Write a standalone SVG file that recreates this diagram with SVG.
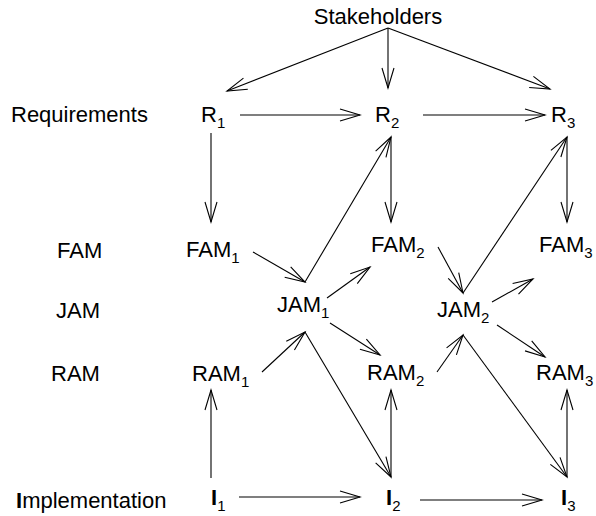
<svg xmlns="http://www.w3.org/2000/svg" width="596" height="516" viewBox="0 0 596 516">
<style>
text{font-family:"Liberation Sans",Arial,sans-serif;font-size:22px;fill:#000}
.s{font-size:15px}
.b{font-weight:bold}
#edges line{stroke:#000;stroke-width:1.1;fill:none;marker-end:url(#ah)}
</style>
<defs>
<marker id="ah" markerUnits="userSpaceOnUse" markerWidth="24" markerHeight="16" refX="21" refY="7" orient="auto">
<path d="M1,1 L21,7 L1,13" fill="none" stroke="#000" stroke-width="1.1"/>
</marker>
</defs>
<rect width="596" height="516" fill="#fff"/>
<g id="labels">
<text x="11" y="122">Requirements</text>
<text x="57" y="258">FAM</text>
<text x="56" y="318">JAM</text>
<text x="51" y="381">RAM</text>
<text x="16" y="508"><tspan class="b">I</tspan>mplementation</text>
</g>
<g id="stakeholders"><text x="378" y="24" text-anchor="middle">Stakeholders</text></g>
<g id="R1"><text x="201" y="122">R<tspan class="s" dy="6">1</tspan></text></g>
<g id="R2"><text x="375" y="122">R<tspan class="s" dy="6">2</tspan></text></g>
<g id="R3"><text x="551" y="122">R<tspan class="s" dy="6">3</tspan></text></g>
<g id="FAM1"><text x="186" y="257">FAM<tspan class="s" dy="6">1</tspan></text></g>
<g id="FAM2"><text x="371" y="252">FAM<tspan class="s" dy="6">2</tspan></text></g>
<g id="FAM3"><text x="539" y="252">FAM<tspan class="s" dy="6">3</tspan></text></g>
<g id="JAM1"><text x="277" y="312">JAM<tspan class="s" dy="6">1</tspan></text></g>
<g id="JAM2"><text x="437" y="317">JAM<tspan class="s" dy="6">2</tspan></text></g>
<g id="RAM1"><text x="192" y="381">RAM<tspan class="s" dy="6">1</tspan></text></g>
<g id="RAM2"><text x="367" y="380">RAM<tspan class="s" dy="6">2</tspan></text></g>
<g id="RAM3"><text x="536" y="380">RAM<tspan class="s" dy="6">3</tspan></text></g>
<g id="I1"><text x="211" y="505"><tspan class="b">I</tspan><tspan class="s" dy="6">1</tspan></text></g>
<g id="I2"><text x="386" y="505"><tspan class="b">I</tspan><tspan class="s" dy="6">2</tspan></text></g>
<g id="I3"><text x="561" y="505"><tspan class="b">I</tspan><tspan class="s" dy="6">3</tspan></text></g>
<g id="edges">
<line x1="388" y1="28" x2="227" y2="91"/>
<line x1="388" y1="28" x2="388" y2="88"/>
<line x1="388" y1="28" x2="550" y2="89"/>
<line x1="240" y1="115" x2="360" y2="115"/>
<line x1="423" y1="115" x2="545" y2="115"/>
<line x1="211" y1="133" x2="211" y2="222"/>
<line x1="391" y1="137" x2="391" y2="222"/>
<line x1="567" y1="137" x2="567" y2="222"/>
<line x1="253" y1="252" x2="305" y2="282"/>
<line x1="305" y1="282" x2="391" y2="137"/>
<line x1="327" y1="298" x2="370" y2="267"/>
<line x1="438" y1="247" x2="463" y2="293"/>
<line x1="463" y1="293" x2="567" y2="137"/>
<line x1="492" y1="302" x2="533" y2="279"/>
<line x1="262" y1="372" x2="305" y2="332"/>
<line x1="330" y1="323" x2="380" y2="355"/>
<line x1="305" y1="332" x2="391" y2="477"/>
<line x1="437" y1="372" x2="463" y2="335"/>
<line x1="497" y1="325" x2="545" y2="357"/>
<line x1="463" y1="335" x2="567" y2="477"/>
<line x1="211" y1="478" x2="211" y2="390"/>
<line x1="391" y1="477" x2="391" y2="390"/>
<line x1="567" y1="477" x2="567" y2="390"/>
<line x1="239" y1="497" x2="360" y2="497"/>
<line x1="420" y1="500" x2="542" y2="500"/>
</g>
</svg>
